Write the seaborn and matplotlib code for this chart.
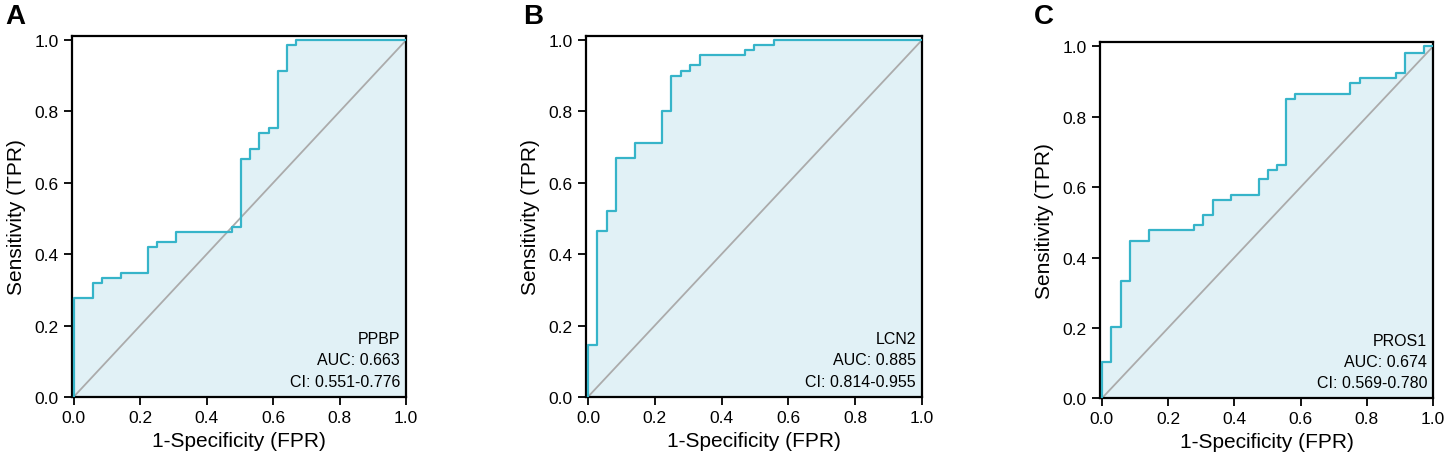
import numpy as np
import matplotlib
matplotlib.use("Agg")
import matplotlib.pyplot as plt
import seaborn as sns

# ROC points (fpr, tpr)
fpr_ppbp = [0, 0, 0.058, 0.086, 0.142, 0.224, 0.25, 0.307, 0.475, 0.502, 0.53,
            0.558, 0.586, 0.614, 0.642, 0.67, 1.0]
tpr_ppbp = [0, 0.276, 0.318, 0.334, 0.347, 0.42, 0.435, 0.463, 0.477, 0.667, 0.696,
            0.739, 0.754, 0.913, 0.986, 1.0, 1.0]

fpr_lcn2 = [0, 0, 0.028, 0.056, 0.084, 0.14, 0.222, 0.25, 0.278, 0.307, 0.335,
            0.47, 0.498, 0.556, 1.0]
tpr_lcn2 = [0, 0.146, 0.465, 0.521, 0.67, 0.712, 0.8, 0.9, 0.914, 0.929, 0.958,
            0.972, 0.987, 1.0, 1.0]

fpr_pros1 = [0, 0, 0.028, 0.057, 0.085, 0.141, 0.278, 0.306, 0.334, 0.389, 0.473,
             0.501, 0.528, 0.556, 0.584, 0.75, 0.778, 0.889, 0.916, 0.972, 1.0]
tpr_pros1 = [0, 0.102, 0.202, 0.332, 0.448, 0.478, 0.492, 0.52, 0.563, 0.579, 0.622,
             0.65, 0.664, 0.852, 0.866, 0.895, 0.911, 0.925, 0.981, 1.0, 1.0]

genes = ["PPBP", "LCN2", "PROS1"]
auc_text = ["AUC: 0.663", "AUC: 0.885", "AUC: 0.674"]
ci_text = ["CI: 0.551-0.776", "CI: 0.814-0.955", "CI: 0.569-0.780"]
panel_labels = ["A", "B", "C"]
ticks = [0.0, 0.2, 0.4, 0.6, 0.8, 1.0]

sns.set_style("ticks")
plt.rcParams["font.family"] = ["Liberation Sans", "DejaVu Sans"]
plt.rcParams["text.color"] = "black"
plt.rcParams["axes.labelcolor"] = "black"
plt.rcParams["xtick.color"] = "black"
plt.rcParams["ytick.color"] = "black"

line_color = "#36B4C9"
fill_color = "#E1F1F6"
diag_color = "#ABABAB"

fig = plt.figure(figsize=(14.45, 4.6), dpi=100)

# axes positions [left, bottom, width, height] in figure fraction
boxes = [
    [0.0496, 0.135, 0.2315, 0.785],
    [0.4055, 0.135, 0.2325, 0.785],
    [0.7612, 0.132, 0.2305, 0.774],
]
label_x = [5 / 1445, 523 / 1445, 1034 / 1445]

curves = [(fpr_ppbp, tpr_ppbp), (fpr_lcn2, tpr_lcn2), (fpr_pros1, tpr_pros1)]

for i, (fpr, tpr) in enumerate(curves):
    ax = fig.add_axes(boxes[i])
    ax.fill_between(fpr, tpr, 0, step="post", color=fill_color, lw=0, zorder=1)
    sns.lineplot(x=[0, 1], y=[0, 1], ax=ax, color=diag_color, lw=1.3, zorder=2)
    sns.lineplot(x=fpr, y=tpr, ax=ax, sort=False, estimator=None,
                 drawstyle="steps-post", color=line_color, lw=1.6, zorder=3)

    ax.set_xlim(-0.006, 1.0)
    ax.set_ylim(0, 1.012)
    ax.set_xticks(ticks)
    ax.set_yticks(ticks)
    ax.set_xticklabels([f"{t:.1f}" for t in ticks])
    ax.set_yticklabels([f"{t:.1f}" for t in ticks])
    ax.tick_params(labelsize=12.5, length=6, width=1.3, direction="out",
                   color="black", labelcolor="black")
    for s in ax.spines.values():
        s.set_linewidth(1.6)
        s.set_color("black")
        s.set_visible(True)
    ax.set_xlabel("1-Specificity (FPR)", fontsize=15, labelpad=4)
    ax.set_ylabel("Sensitivity (TPR)", fontsize=15, labelpad=6)

    ax.text(0.982, 0.149, genes[i], transform=ax.transAxes, ha="right",
            va="baseline", fontsize=11.5)
    ax.text(0.982, 0.090, auc_text[i], transform=ax.transAxes, ha="right",
            va="baseline", fontsize=11.5)
    ax.text(0.982, 0.031, ci_text[i], transform=ax.transAxes, ha="right",
            va="baseline", fontsize=11.5)

    fig.text(label_x[i], 1 - 24 / 460, panel_labels[i], fontsize=20,
             fontweight="bold", va="baseline", ha="left")

fig.savefig("out.png", dpi=100)
